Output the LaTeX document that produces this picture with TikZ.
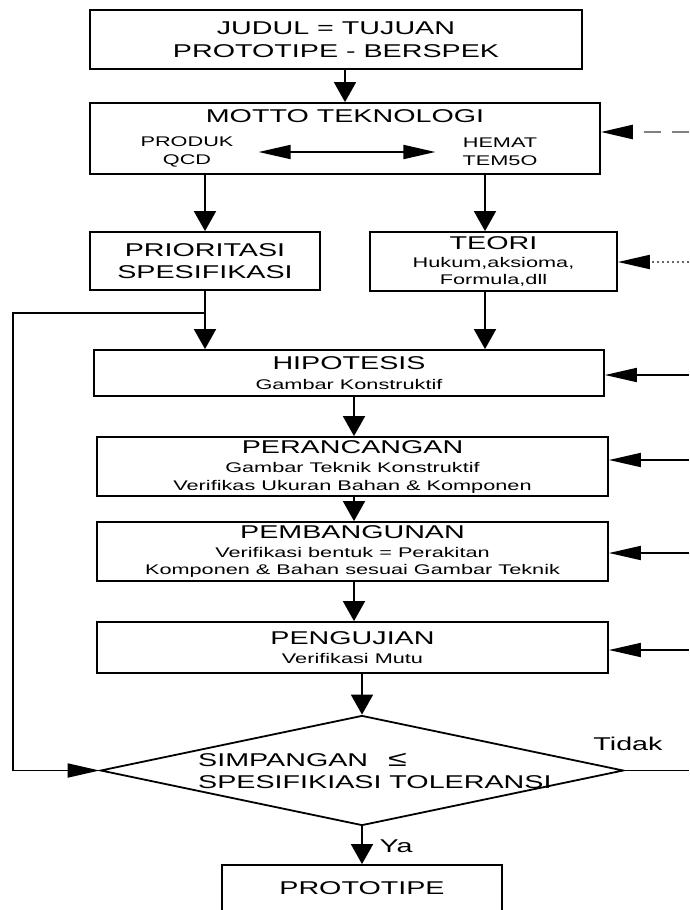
\documentclass[tikz,border=0pt]{standalone}
\usepackage{fontspec}
\setmainfont[FakeStretch=1.55]{Liberation Sans}
\usepackage{tikz}
\usetikzlibrary{shapes.geometric, arrows.meta, positioning, calc}
\newcommand\hdfont{\fontsize{18.5}{22.5}\selectfont}
\newcommand\subfont{\fontsize{14}{17.5}\selectfont}
\tikzset{
  hd/.style={font=\hdfont, text=black, align=center},
  sub/.style={font=\subfont, text=black, align=center},
  blok/.style={draw=black, line width=1.8pt, minimum width=#1, align=center, inner sep=0pt, font=\subfont},
  vflow/.style={-{Triangle[length=20pt, width=22pt]}, line width=1.8pt},
  hflow/.style={-{Triangle[length=32pt, width=14pt, color=black]}, line width=1.8pt},
}

\begin{document}
\begin{tikzpicture}[x=1pt, y=-1pt,
  putus/.style={draw=black!50, line width=2.5pt, dash pattern=on 17pt off 11pt},
  titik/.style={draw=black!60, line width=2pt, dash pattern=on 2.5pt off 2.5pt}]
  \clip (0,0) rectangle (689,910);
  % blocks
  \node[blok=492pt, minimum height=59pt, font=\hdfont] (judul) at (336,39.5) {JUDUL = TUJUAN\\PROTOTIPE - BERSPEK};
  \node[blok=510pt, minimum height=71pt] (motto) at (345,138.5) {};
  \node[hd] (mottottl) at (345,116) {MOTTO TEKNOLOGI};
  \node[sub, inner xsep=25pt] (produk) at (187,152) {PRODUK\\QCD};
  \node[sub, inner xsep=27pt] (hemat) at (500,152) {HEMAT\\TEM5O};
  \node[blok=230pt, minimum height=58pt, font=\hdfont] (prior) at (205,261) {PRIORITASI\\SPESIFIKASI};
  \node[blok=247pt, minimum height=59pt] (teori) at (493.5,261.5) {{\hdfont TEORI}\\Hukum,aksioma,\\Formula,dll};
  \node[blok=510pt, minimum height=46pt] (hipo) at (349,373) {{\hdfont HIPOTESIS}\\[2pt]Gambar Konstruktif};
  \node[blok=511pt, minimum height=59pt] (peranc) at (352.5,466.5) {{\hdfont PERANCANGAN}\\[2pt]Gambar Teknik Konstruktif\\Verifikas Ukuran Bahan \& Komponen};
  \node[blok=511pt, minimum height=59pt] (pemb) at (352.5,551.5) {{\hdfont PEMBANGUNAN}\\[1pt]Verifikasi bentuk = Perakitan\\Komponen \& Bahan sesuai Gambar Teknik};
  \node[blok=511pt, minimum height=51pt] (uji) at (352.5,647.5) {{\hdfont PENGUJIAN}\\[2pt]Verifikasi Mutu};
  \node[shape=diamond, draw=black, line width=1.8pt, minimum width=523pt, minimum height=110pt, inner sep=0pt] (cek) at (362,770.5) {};
  \node[hd, align=left, anchor=west, inner sep=0pt] (cektxt) at (198,771) {SIMPANGAN\hspace{20pt}{\fontsize{22}{22}\selectfont ≤}\\SPESIFIKIASI TOLERANSI};
  \node[blok=280pt, minimum height=46pt, font=\hdfont] (proto) at (362,888) {PROTOTIPE};
  \node[hd] (tidak) at (628,744) {Tidak};
  \node[hd] (ya) at (396,846) {Ya};
  % connector points
  \coordinate (colR) at (485,0);
  \coordinate (colM) at (354,0);
  \coordinate (fbKiri) at (13,313);
  \coordinate (inMotto) at (689,132);
  \coordinate (inTeori) at (689,262);
  \coordinate (inHipo) at (689,375);
  \coordinate (inPeranc) at (689,460);
  \coordinate (inPemb) at (689,553);
  \coordinate (inUji) at (689,650);
  \coordinate (outTidak) at (689,770.5);
  % connectors
  \draw[vflow] (judul.south -| mottottl) -- (motto.north -| mottottl);
  \draw[{Triangle[length=32pt, width=14pt]}-{Triangle[length=32pt, width=14pt]}, line width=1.8pt] (produk.east) -- (hemat.west);
  \draw[vflow] (motto.south -| prior) -- (prior.north);
  \draw[vflow] (motto.south -| colR) -- (teori.north -| colR);
  \draw[vflow] (prior.south) -- (prior.south |- hipo.north);
  \draw[vflow] (teori.south -| colR) -- (hipo.north -| colR);
  \draw[hflow] (prior.south |- fbKiri) -- (fbKiri) |- (cek.west);
  \draw[vflow] (hipo.south -| colM) -- (peranc.north -| colM);
  \draw[vflow] (peranc.south -| colM) -- (pemb.north -| colM);
  \draw[vflow] (pemb.south -| colM) -- (uji.north -| colM);
  \draw[vflow] (uji.south -| cek.north) -- (cek.north);
  \draw[vflow] (cek.south) -- (proto.north);
  \draw[line width=1.8pt] (cek.east) -- (outTidak);
  \draw[hflow, putus] (inMotto) -- (inMotto -| motto.east);
  \draw[hflow, titik] (inTeori) -- (inTeori -| teori.east);
  \draw[hflow] (inHipo) -- (inHipo -| hipo.east);
  \draw[hflow] (inPeranc) -- (inPeranc -| peranc.east);
  \draw[hflow] (inPemb) -- (inPemb -| pemb.east);
  \draw[hflow] (inUji) -- (inUji -| uji.east);
\end{tikzpicture}
\end{document}
